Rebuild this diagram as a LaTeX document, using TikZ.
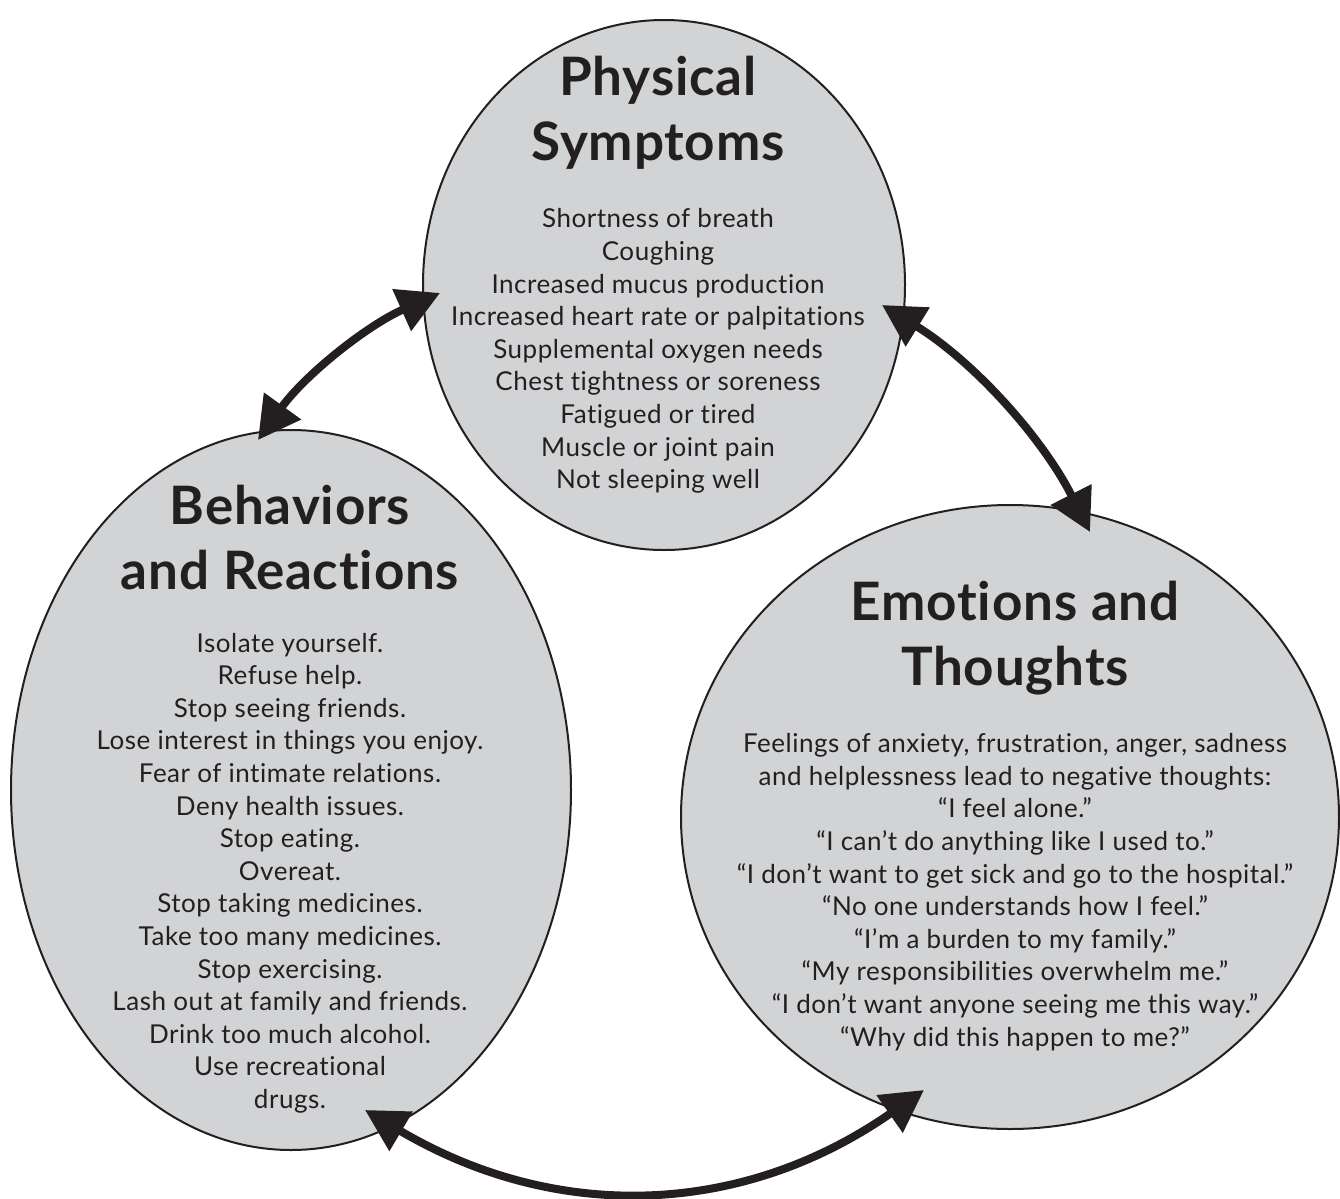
\documentclass[tikz,border=0pt]{standalone}
\usepackage{fontspec}
\setmainfont{Lato}[Ligatures=NoCommon]
\newfontfamily\listfont{Lato}[Ligatures=NoCommon,LetterSpace=2]
\newfontfamily\headfont{Lato}[Ligatures=NoCommon,LetterSpace=1.5]
\usetikzlibrary{shapes.geometric,arrows.meta}
\definecolor{bubble}{HTML}{D1D3D4}
\definecolor{ink}{HTML}{231F20}
\begin{document}
\begin{tikzpicture}[x=0.5pt,y=-0.5pt,
  bubble/.style={ellipse,draw=ink,fill=bubble,line width=1pt,inner sep=0pt,outer sep=0pt},
  heading/.style={text=ink,align=center,font=\headfont\fontsize{26.5}{32.5}\selectfont\bfseries},
  items/.style={text=ink,align=center,font=\listfont\fontsize{13}{16.3}\selectfont},
  link/.style={ink,line width=4pt,{Triangle[length=21pt,width=22pt]}-{Triangle[length=21pt,width=22pt]}}]
\useasboundingbox (0,0) rectangle (1340,1199);

% the three bubbles
\node[bubble,minimum width=241pt,minimum height=265pt] (phys) at (664,285) {};
\node[bubble,minimum width=280pt,minimum height=360pt] (behav) at (291,790) {};
\node[bubble,minimum width=329pt,minimum height=312pt] (emot) at (1010,817) {};

% headings
\node[heading] (physT) at (658,113) {Physical\\Symptoms};
\node[heading] (behavT) at (290,538) {Behaviors\\and Reactions};
\node[heading] (emotT) at (1015,638) {Emotions and\\Thoughts};

% lists
\node[items] (physL) at (658,351) {Shortness of breath\\Coughing\\Increased mucus production\\Increased heart rate or palpitations\\Supplemental oxygen needs\\Chest tightness or soreness\\Fatigued or tired\\Muscle or joint pain\\Not sleeping well};
\node[items] (behavL) at (290,873) {Isolate yourself.\\Refuse help.\\Stop seeing friends.\\Lose interest in things you enjoy.\\Fear of intimate relations.\\Deny health issues.\\Stop eating.\\Overeat.\\Stop taking medicines.\\Take too many medicines.\\Stop exercising.\\Lash out at family and friends.\\Drink too much alcohol.\\Use recreational\\drugs.};
\node[items] (emotL) at (1015,892) {Feelings of anxiety, frustration, anger, sadness\\and helplessness lead to negative thoughts:\\“I feel alone.”\\“I can’t do anything like I used to.”\\“I don’t want to get sick and go to the hospital.”\\“No one understands how I feel.”\\“I’m a burden to my family.”\\“My responsibilities overwhelm me.”\\“I don’t want anyone seeing me this way.”\\“Why did this happen to me?”};

% arrow ends, just inside each bubble
\coordinate (pL) at (440,293);
\coordinate (bT) at (258,440);
\coordinate (pR) at (882,305);
\coordinate (eT) at (1090,532);
\coordinate (bB) at (365,1110);
\coordinate (eB) at (924,1090);

% two-way links
\draw[link] (pL) .. controls (366,326) and (305,375) .. (bT);
\draw[link] (pR) .. controls (973,361) and (1042,437) .. (eT);
\draw[link] (bB) .. controls (556,1223) and (742,1217) .. (eB);
\end{tikzpicture}
\end{document}
